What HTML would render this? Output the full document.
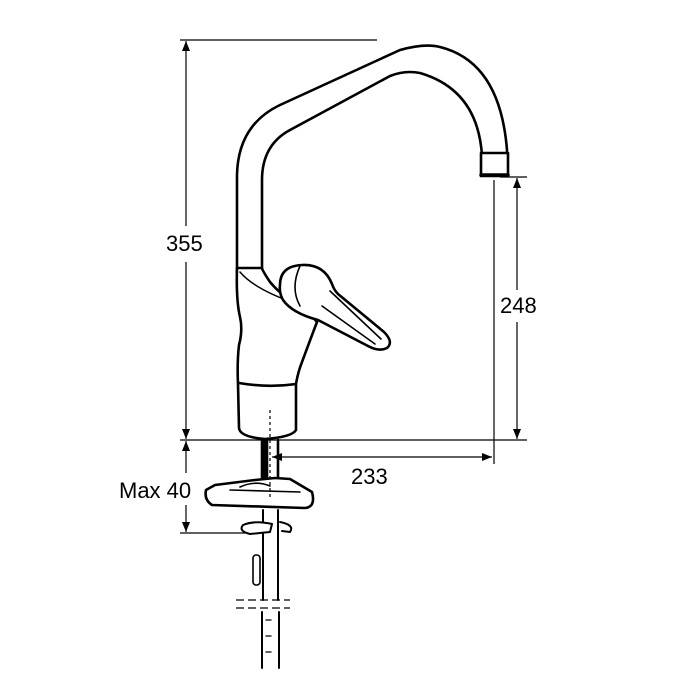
<!DOCTYPE html>
<html><head><style>
html,body{margin:0;padding:0;background:#fff;}
svg{display:block;}
text{font-family:"Liberation Sans",Arial,sans-serif;font-size:22px;fill:#000;}
</style></head><body>
<svg width="700" height="700" viewBox="0 0 700 700" xmlns="http://www.w3.org/2000/svg">
<defs>
<marker id="a" viewBox="0 0 10 10" refX="10" refY="5" markerWidth="10" markerHeight="14" markerUnits="userSpaceOnUse" orient="auto-start-reverse"><path d="M0,1 L10,5 L0,9 z" fill="#000"/></marker>
</defs>
<g stroke="#000" stroke-width="1.2" fill="none">
<line x1="180" y1="40" x2="377" y2="40"/>
<line x1="180" y1="440" x2="527" y2="440"/>
<line x1="500" y1="177" x2="527" y2="177"/>
<line x1="494" y1="180" x2="494" y2="464"/>
<line x1="180" y1="533" x2="247" y2="533"/>
<line x1="186" y1="41" x2="186" y2="226" marker-start="url(#a)"/>
<line x1="186" y1="262" x2="186" y2="439" marker-end="url(#a)"/>
<line x1="517" y1="178" x2="517" y2="290" marker-start="url(#a)"/>
<line x1="517" y1="322" x2="517" y2="439" marker-end="url(#a)"/>
<line x1="186" y1="441" x2="186" y2="473" marker-start="url(#a)"/>
<line x1="186" y1="505" x2="186" y2="532" marker-end="url(#a)"/>
<line x1="272" y1="457" x2="492" y2="457" marker-start="url(#a)" marker-end="url(#a)"/>
</g>
<text x="166" y="251">355</text>
<text x="500" y="313">248</text>
<text x="119" y="498">Max 40</text>
<text x="351" y="484">233</text>

<g stroke="#000" stroke-width="2.6" fill="#fff" stroke-linejoin="round" stroke-linecap="round">
<path d="M237,272 L237,175 Q238,125 280,105 L400,50 Q425,43 440,47 Q500,62 507,150 L507,156 L482,156 Q478,90 420,73 Q405,70 390,76 L290,130 Q262,145 262,180 L262,272 Z"/>
<rect x="481" y="153" width="27" height="23" fill="#fff"/>
<line x1="481" y1="175" x2="508" y2="175" stroke-width="3.5"/>
<path d="M237,268 Q236,300 240,317 Q243,330 239,345 Q237,362 238,384 L239,428 Q240,437 265,439 Q292,437 296,430 L296,384 Q298,372 302,362 Q312,335 317,322 L300,302 Q285,300 270,282 Q262,270 262,268 Z"/>
<path d="M239,383 Q268,388 296,384" fill="none"/>
<path d="M240,272 Q255,290 300,305" fill="none" stroke-width="1.5"/>
<path d="M280,285 Q280,266 302,265 Q324,264 332,284 Q334,290 338,294 L384,332 Q394,342 387,348 Q379,352 368,346 L318,320 Q292,313 283,300 Q279,293 280,285 Z"/>
<path d="M300,266 Q290,288 300,306" fill="none" stroke-width="1.6"/>
<path d="M330,291 L381,339" fill="none" stroke-width="1.6"/>
<path d="M322,306 L375,344" fill="none" stroke-width="1.6"/>
<rect x="262" y="440" width="5" height="38" fill="#000"/>
<line x1="278" y1="440" x2="278" y2="480"/>
<line x1="263" y1="510" x2="263" y2="600" stroke-width="2"/>
<line x1="278" y1="510" x2="278" y2="600" stroke-width="2"/>
<line x1="262" y1="612" x2="262" y2="668" stroke-width="2"/>
<line x1="279" y1="612" x2="279" y2="668" stroke-width="2"/>
<path d="M266,620 L271,620 M266,636 L271,636 M266,652 L271,652" stroke-width="1.3"/>
<rect x="253" y="555" width="7" height="30" rx="3" stroke-width="1.6"/>
<path d="M215,485 L255,480 L275,478 L290,479 L312,492 Q316,507 305,508 L212,505 Q204,500 206,490 Z"/>
<path d="M230,490 L300,492 M240,487 Q255,480 270,486" fill="none" stroke-width="1.6"/>
<path d="M243,525 Q238,531 250,534 L270,532 L272,524 Q255,520 243,525 Z" stroke-width="2"/>
<path d="M280,522 Q295,525 290,532 L282,531" fill="none" stroke-width="2"/>
</g>
<g stroke="#000" stroke-width="1.2" fill="none">
<line x1="270" y1="410" x2="270" y2="500" stroke-dasharray="3,3"/>
<line x1="236" y1="600" x2="290" y2="600" stroke-dasharray="8,4"/>
<line x1="236" y1="608" x2="290" y2="608" stroke-dasharray="8,4"/>
</g>
</svg>
</body></html>
